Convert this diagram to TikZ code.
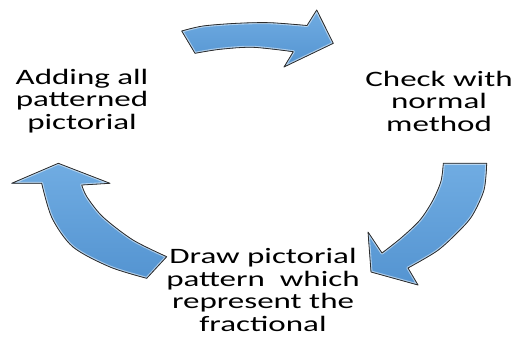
\documentclass[tikz,border=0pt]{standalone}
\usepackage{fontspec}
\setmainfont{Carlito}[FakeStretch=1.5]
\usepackage{xcolor}
\definecolor{Col1}{RGB}{84,148,209}
\definecolor{Col2}{RGB}{112,172,226}
\definecolor{Col3}{RGB}{45,45,45}
\usepackage{tikz}
\tikzstyle{Arrow}=[top color=Col2,bottom color=Col1]
\tikzstyle{Rim}=[draw=white,opacity=.5,line width=3pt,line join=round]
\tikzstyle{Outline}=[draw=Col3,line width=.8pt,line join=round]
\tikzstyle{Label}=[align=center,inner sep=0pt,
font=\fontsize{22}{22.5}\selectfont]
\newcommand{\ArrowTop}{(181.7,31.0) -- plot[smooth] coordinates {(181.7,31.0)
    (203,26) (237,23.3) (270,22.7) (307,25.5)} -- (316.7,10) -- (333.3,43.3)
    -- (284,67) -- plot[smooth] coordinates {(293.3,51.7) (253,47.3)
    (220,49.3) (195,53.3)} -- cycle}
\newcommand{\ArrowRight}{(443.3,163.3) -- (486.7,163.3) -- plot[smooth]
    coordinates {(486.7,163.3) (484,190) (472,216) (457,233) (437,251)
    (408,268)} -- (418,285) -- (371,272) -- (368,232) -- plot[smooth]
    coordinates {(382,253) (401,238) (420,220) (433,200) (441,181)
    (443.3,163.3)} -- cycle}
\newcommand{\ArrowLeft}{(58.3,163.3) -- (110,183.3) -- plot[smooth]
    coordinates {(81.7,185) (87,197) (103,217) (133,240) (166.7,256.7)}
    -- (146.7,278.3) -- plot[smooth] coordinates {(146.7,278.3) (110,267)
    (73,247) (52,218) (41.7,183.3)} -- (11.7,183.3) -- cycle}

\begin{document}
\begin{tikzpicture}[x=1pt,y=-1pt]
    \useasboundingbox (0,0) rectangle (518,338);
    % arrows
    \foreach \a in {\ArrowTop,\ArrowRight,\ArrowLeft}{
        \fill[Arrow] \a;
        \begin{scope}
            \clip \a;
            \draw[Rim] \a;
        \end{scope}
        \draw[Outline] \a;
    }
    % steps
    \node[Label](0)at(82,101){Adding all\\patterned\\pictorial};
    \node[Label](1)at(439,101){Check with\\normal\\method};
    \node[Label](2)at(263,290){Draw pictorial\\pattern\ \ which\\
        represent the\\fractional};
\end{tikzpicture}
\end{document}
